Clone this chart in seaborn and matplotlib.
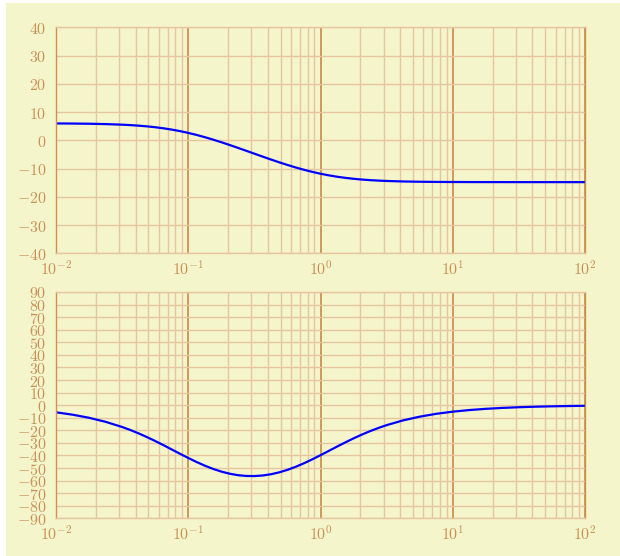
import numpy as np
import pandas as pd
import matplotlib
matplotlib.use("Agg")
import matplotlib.pyplot as plt
import matplotlib.ticker as mticker
from matplotlib.patches import Rectangle
import seaborn as sns

# Frequency samples (rad/s) and values
freq = [0.01, 0.013335, 0.017783, 0.023714, 0.031623, 0.036517, 0.04217, 0.048697,
        0.056234, 0.064938, 0.074989, 0.086596, 0.1, 0.11548, 0.13335, 0.15399,
        0.17783, 0.20535, 0.23714, 0.27384, 0.31623, 0.36517, 0.4217, 0.48697,
        0.56234, 0.64938, 0.74989, 0.86596, 1.0, 1.15478, 1.3335, 1.53993,
        1.7783, 2.05353, 2.3714, 2.73842, 3.1623, 4.217, 5.6234, 7.4989,
        10.0, 13.335, 17.783, 23.714, 31.623, 42.17, 56.234, 74.989, 100.0]
magnitude_db = [5.969, 5.929, 5.859, 5.737, 5.529, 5.377, 5.182, 4.935,
                4.627, 4.248, 3.791, 3.249, 2.620, 1.906, 1.112, 0.246,
                -0.680, -1.655, -2.665, -3.697, -4.739, -5.775, -6.794, -7.782,
                -8.726, -9.613, -10.433, -11.174, -11.833, -12.404, -12.890, -13.294,
                -13.625, -13.891, -14.103, -14.269, -14.396, -14.571, -14.673, -14.731,
                -14.764, -14.783, -14.793, -14.799, -14.803, -14.805, -14.806, -14.807, -14.807]
phase_deg = [-5.70, -7.58, -10.05, -13.26, -17.37, -19.79, -22.47, -25.39,
             -28.52, -31.82, -35.23, -38.66, -42.01, -45.20, -48.13, -50.69,
             -52.84, -54.52, -55.69, -56.32, -56.41, -55.96, -54.97, -53.47,
             -51.47, -49.03, -46.23, -43.12, -39.81, -36.40, -32.97, -29.62,
             -26.42, -23.43, -20.67, -18.16, -15.90, -12.11, -9.16, -6.90,
             -5.19, -3.90, -2.93, -2.20, -1.65, -1.23, -0.93, -0.69, -0.52]
mag_ticks = [-40, -30, -20, -10, 0, 10, 20, 30, 40]
phase_ticks = [-90, -80, -70, -60, -50, -40, -30, -20, -10, 0, 10, 20, 30, 40, 50, 60, 70, 80, 90]
decade_ticks = [0.01, 0.1, 1, 10, 100]
decade_labels = [r"$10^{-2}$", r"$10^{-1}$", r"$10^{0}$", r"$10^{1}$", r"$10^{2}$"]

df = pd.DataFrame({"freq": freq, "mag": magnitude_db, "phase": phase_deg})

BG = "#f5f5cb"
TXT = "#c89158"
MINOR = "#e6c6a0"
MAJOR = "#cf9050"
BLUE = "#0000ff"

sns.set_style("white")
plt.rcParams["mathtext.fontset"] = "cm"
plt.rcParams["font.family"] = ["DejaVu Serif"]

fig = plt.figure(figsize=(6.2, 5.56), dpi=100, facecolor="white")
fig.patches.append(Rectangle((6 / 620, 0), 1 - 6 / 620, 1 - 3 / 556,
                             transform=fig.transFigure, facecolor=BG,
                             edgecolor="none", zorder=-10))

L, R = 56 / 620, 585 / 620
ax1 = fig.add_axes([L, 1 - 253.3 / 556, R - L, (253.3 - 27.3) / 556])
ax2 = fig.add_axes([L, 1 - 518.3 / 556, R - L, (518.3 - 292) / 556])


def style(ax, yticks, ylim):
    ax.set_facecolor(BG)
    ax.set_xscale("log")
    ax.set_xlim(0.01, 100)
    ax.set_ylim(*ylim)
    ax.set_yticks(yticks)
    ax.set_yticklabels([r"$%d$" % v if v >= 0 else r"$-%d$" % (-v) for v in yticks])
    ax.set_xticks(decade_ticks)
    ax.set_xticklabels(decade_labels)
    ax.xaxis.set_minor_locator(mticker.LogLocator(base=10, subs=np.arange(2, 10), numticks=20))
    ax.xaxis.set_minor_formatter(mticker.NullFormatter())
    ax.grid(which="minor", axis="x", color=MINOR, linewidth=1.0)
    ax.grid(which="major", axis="x", color=MAJOR, linewidth=1.3)
    ax.grid(which="major", axis="y", color=MINOR, linewidth=1.0)
    ax.set_axisbelow(True)
    ax.tick_params(which="both", length=0, colors=TXT, labelsize=11.5)
    ax.tick_params(axis="y", pad=7)
    ax.tick_params(axis="x", pad=5)
    for s in ax.spines.values():
        s.set_color(MINOR)
        s.set_linewidth(1.0)
    ax.spines["left"].set_color(MAJOR)
    ax.spines["right"].set_color(MAJOR)
    ax.set_xlabel("")
    ax.set_ylabel("")


sns.lineplot(data=df, x="freq", y="mag", ax=ax1, color=BLUE, linewidth=1.6)
sns.lineplot(data=df, x="freq", y="phase", ax=ax2, color=BLUE, linewidth=1.6)
style(ax1, mag_ticks, (-40, 40))
style(ax2, phase_ticks, (-90, 90))

fig.savefig("out.png", dpi=100, facecolor="white")
